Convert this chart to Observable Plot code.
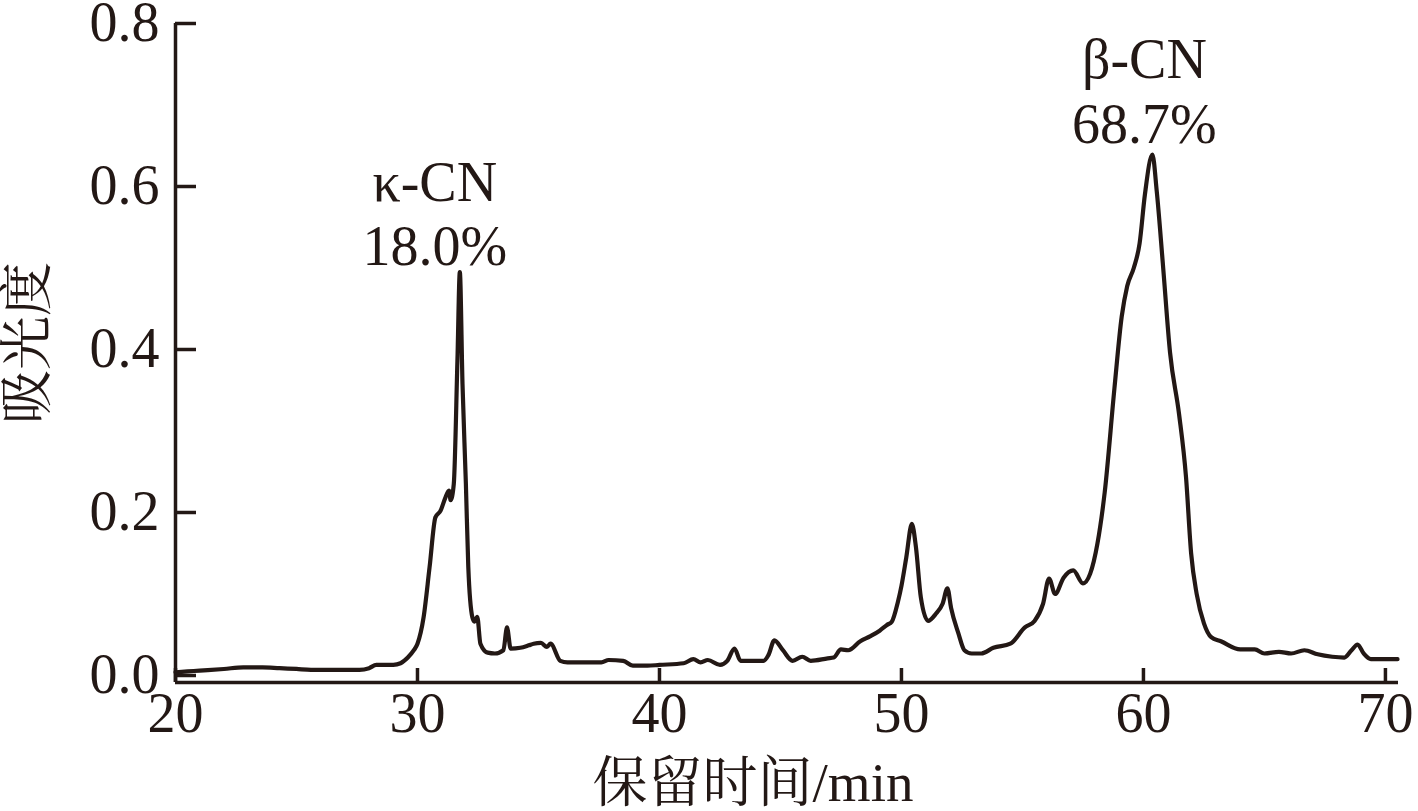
<!DOCTYPE html>
<html>
<head>
<meta charset="utf-8">
<script src="https://cdn.jsdelivr.net/npm/d3@7"></script>
<script src="https://cdn.jsdelivr.net/npm/@observablehq/plot@0.6"></script>
<style>
  html, body { margin: 0; padding: 0; background: #fff; }
  #chart { width: 1418px; height: 811px; }
</style>
</head>
<body>
<div id="chart"></div>
<script>
// Retention time (min)
const times = [
  20.0, 20.5, 21.0, 22.0, 22.8, 23.6, 24.3, 25.0, 25.6, 26.5, 27.6, 28.0, 28.3, 29.0, 29.3, 29.6, 29.85,
  30.0, 30.25, 30.5, 30.74, 30.95, 31.15, 31.3, 31.37, 31.5, 31.65, 31.75, 31.86, 32.0, 32.1, 32.27,
  32.35, 32.47, 32.6, 32.9, 33.2, 33.55, 33.7, 33.85, 34.25, 34.6, 34.8, 35.1, 35.35, 35.5, 35.9, 36.2,
  37.6, 37.9, 38.5, 38.9, 39.5, 40.0, 41.0, 41.4, 41.7, 42.0, 42.5, 42.8, 43.1, 43.35, 44.3, 44.5, 44.75,
  45.1, 45.5, 45.9, 46.25, 46.95, 47.2, 47.5, 47.8, 48.3, 48.7, 49.1, 49.4, 49.6, 49.85, 50.0, 50.2,
  50.43, 50.6, 50.8, 51.1, 51.43, 51.7, 51.9, 52.05, 52.35, 52.6, 52.9, 53.3, 53.8, 54.5, 55.1, 55.5,
  55.85, 56.1, 56.35, 56.7, 57.1, 57.5, 57.8, 58.1, 58.4, 58.8, 59.1, 59.33, 59.6, 59.84, 60.06, 60.37,
  60.55, 60.8, 61.1, 61.47, 61.76, 61.97, 62.2, 62.5, 62.8, 63.2, 64.0, 64.6, 65.0, 65.6, 66.1, 66.65,
  67.2, 67.8, 68.3, 68.6, 68.85, 69.1, 69.4, 70.5
];
// Absorbance
const absorbance = [
  0.004, 0.005, 0.006, 0.008, 0.010, 0.010, 0.009, 0.008, 0.007, 0.007, 0.007, 0.009, 0.013, 0.013, 0.015, 0.022, 0.031,
  0.039, 0.071, 0.133, 0.194, 0.202, 0.218, 0.227, 0.215, 0.235, 0.386, 0.495, 0.358, 0.235, 0.133, 0.071,
  0.066, 0.072, 0.039, 0.028, 0.027, 0.031, 0.059, 0.033, 0.034, 0.037, 0.039, 0.040, 0.035, 0.039, 0.018, 0.016,
  0.016, 0.019, 0.018, 0.012, 0.012, 0.013, 0.015, 0.020, 0.016, 0.019, 0.013, 0.018, 0.033, 0.018, 0.018, 0.025, 0.043,
  0.031, 0.018, 0.023, 0.018, 0.021, 0.022, 0.032, 0.031, 0.042, 0.048, 0.055, 0.062, 0.066, 0.090, 0.110, 0.145,
  0.186, 0.157, 0.096, 0.067, 0.076, 0.088, 0.107, 0.083, 0.052, 0.031, 0.027, 0.027, 0.034, 0.039, 0.059, 0.067,
  0.088, 0.119, 0.100, 0.120, 0.129, 0.113, 0.125, 0.162, 0.225, 0.352, 0.440, 0.478, 0.500, 0.530, 0.590, 0.639,
  0.594, 0.506, 0.396, 0.321, 0.243, 0.150, 0.100, 0.064, 0.047, 0.042, 0.032, 0.032, 0.027, 0.029, 0.027, 0.031,
  0.026, 0.023, 0.022, 0.031, 0.038, 0.027, 0.020, 0.020
];
// Axis ticks
const xTicks = [20, 30, 40, 50, 60, 70];
const yTicks = [0.0, 0.2, 0.4, 0.6, 0.8];
// Peak annotations
const peakNames = ["κ-CN", "β-CN"];
const peakShares = ["18.0%", "68.7%"];
const peakTimes = [31.75, 60.37];
const peakValues = [0.495, 0.639];

const xLabel = "保留时间/min";
const yLabel = "吸光度";

const series = times.map((t, i) => ({t, a: absorbance[i]}));
const peaks = peakNames.map((n, i) => ({t: peakTimes[i], a: peakValues[i], label: n + "\n" + peakShares[i]}));
const labelShiftX = [-25, -8];
const labelShiftY = [-7, -12];

const INK = "#231815";
const FONT = "'Liberation Serif', 'Times New Roman', 'Noto Serif CJK SC', 'Noto Sans CJK SC', serif";

const W = 1418, H = 811;
const mL = 175, mR = 20, mT = 23, mB = 129;
const plotW = W - mL - mR, plotH = H - mT - mB;

const chart = Plot.plot({
  width: W,
  height: H,
  marginLeft: mL,
  marginRight: mR,
  marginTop: mT,
  marginBottom: mB,
  style: {fontFamily: FONT, color: INK, background: "#fff", overflow: "visible"},
  x: {domain: [20, 70.54]},
  y: {domain: [-0.0086, 0.8]},
  marks: [
    // axis lines
    Plot.ruleX([20], {stroke: INK, strokeWidth: 3.5}),
    Plot.ruleY([-0.0086], {stroke: INK, strokeWidth: 3.5}),
    // inward ticks
    Plot.ruleX(xTicks, {x: d => d, stroke: INK, strokeWidth: 3.5, insetTop: plotH - 14}),
    Plot.ruleY(yTicks, {y: d => d, stroke: INK, strokeWidth: 3.5, insetRight: plotW - 21}),
    Plot.axisX(xTicks, {tickSize: 0, tickPadding: 10, fontSize: 56, fill: INK,
      tickFormat: d => String(d), label: null}),
    Plot.axisY(yTicks, {tickSize: 0, tickPadding: 16, fontSize: 56, fill: INK,
      tickFormat: d => d.toFixed(1), label: null}),
    // axis titles
    Plot.text([xLabel], {frameAnchor: "bottom", dy: 118, dx: -34, text: d => d,
      fontSize: 55, fill: INK, lineAnchor: "bottom", textAnchor: "middle"}),
    Plot.text([yLabel], {frameAnchor: "left", dx: -147, dy: -10, rotate: -90, text: d => d,
      fontSize: 54, fill: INK, textAnchor: "middle"}),
    // chromatogram
    Plot.line(series, {x: "t", y: "a", stroke: INK, strokeWidth: 4.2, curve: "monotone-x",
      strokeLinejoin: "round"}),
    // peak labels
    ...peaks.map((p, i) => Plot.text([p], {x: "t", y: "a", text: "label", lineAnchor: "bottom",
      lineHeight: 1.15, dx: labelShiftX[i], dy: labelShiftY[i], fontSize: 56, fill: INK}))
  ]
});
document.getElementById("chart").appendChild(chart);
</script>
</body>
</html>
